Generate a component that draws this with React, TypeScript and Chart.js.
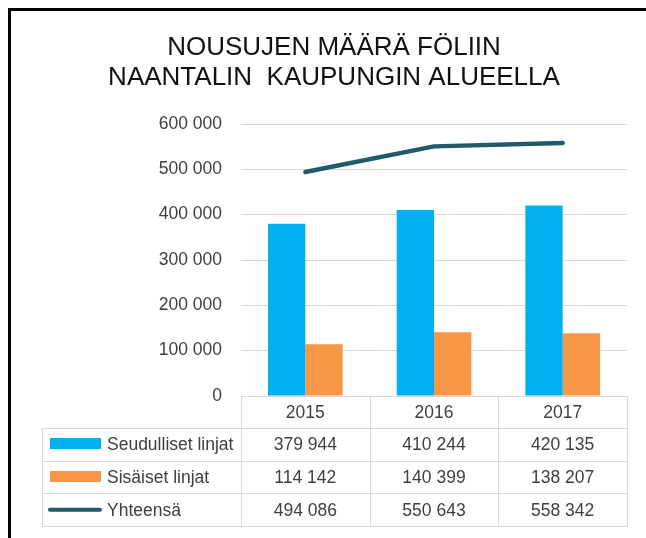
import React, { useEffect, useRef } from "react";
import { Chart, registerables } from "chart.js";

Chart.register(...registerables);

const years = ["2015", "2016", "2017"];
const seudulliset = [379944, 410244, 420135];
const sisaiset = [114142, 140399, 138207];
const yhteensa = [494086, 550643, 558342];
const seriesNames = ["Seudulliset linjat", "Sisäiset linjat", "Yhteensä"];
const seriesColors = ["#00b0f0", "#f79646", "#1f5b6b"];
const titleLines = ["NOUSUJEN MÄÄRÄ FÖLIIN", "NAANTALIN  KAUPUNGIN ALUEELLA"];
const yMin = 0;
const yMax = 600000;
const yStep = 100000;

const FONT = "'Liberation Sans', Arial, sans-serif";
const TEXT = "#404040";
const GRID = "#d9d9d9";

const fmt = (n: number) => String(n).replace(/\B(?=(\d{3})+(?!\d))/g, " ");

const tablePlugin = {
  id: "dataTable",
  afterDraw(chart: any) {
    const ctx: CanvasRenderingContext2D = chart.ctx;
    const xs = chart.scales.x;
    const left = Math.round(xs.left);
    const right = Math.round(xs.right);
    const n = years.length;
    const colW = (right - left) / n;
    const top = Math.round(chart.chartArea.bottom);
    const headerH = 32;
    const rowH = 32.7;
    const tableLeft = 42;
    const rows = [seudulliset, sisaiset, yhteensa];
    const bottom = Math.round(top + headerH + rowH * rows.length);

    ctx.save();
    ctx.strokeStyle = GRID;
    ctx.lineWidth = 1;
    ctx.beginPath();
    for (let i = 0; i <= n; i++) {
      const x = Math.round(left + i * colW) + 0.5;
      ctx.moveTo(x, top);
      ctx.lineTo(x, bottom);
    }
    ctx.moveTo(tableLeft + 0.5, Math.round(top + headerH));
    ctx.lineTo(tableLeft + 0.5, bottom);
    ctx.moveTo(left, top + 0.5);
    ctx.lineTo(right, top + 0.5);
    for (let r = 0; r <= rows.length; r++) {
      const y = Math.round(top + headerH + r * rowH) + 0.5;
      ctx.moveTo(tableLeft, y);
      ctx.lineTo(right + 1, y);
    }
    ctx.stroke();

    ctx.fillStyle = TEXT;
    ctx.font = `17.5px ${FONT}`;
    ctx.textBaseline = "middle";
    ctx.textAlign = "center";
    for (let i = 0; i < n; i++) {
      const cx = left + (i + 0.5) * colW;
      ctx.fillText(years[i], cx, top + headerH / 2 + 1);
      for (let r = 0; r < rows.length; r++) {
        const cy = top + headerH + (r + 0.5) * rowH + 1;
        ctx.fillText(fmt(rows[r][i]), cx, cy);
      }
    }
    for (let r = 0; r < rows.length; r++) {
      const cy = top + headerH + (r + 0.5) * rowH;
      if (r < 2) {
        ctx.fillStyle = seriesColors[r];
        ctx.fillRect(50, Math.round(cy - 6), 51, 11);
      } else {
        ctx.strokeStyle = seriesColors[r];
        ctx.lineWidth = 4;
        ctx.lineCap = "round";
        ctx.beginPath();
        ctx.moveTo(50, cy);
        ctx.lineTo(100, cy);
        ctx.stroke();
      }
      ctx.fillStyle = TEXT;
      ctx.textAlign = "left";
      ctx.fillText(seriesNames[r], 107, cy + 1);
    }

    ctx.fillStyle = "#000";
    ctx.fillRect(8, 8, 638, 3);
    ctx.fillRect(8, 8, 3, 530);
    ctx.restore();
  },
};

export default function App() {
  const ref = useRef<HTMLCanvasElement | null>(null);
  useEffect(() => {
    if (!ref.current) return;
    const chart = new Chart(ref.current, {
      type: "bar",
      data: {
        labels: years,
        datasets: [
          {
            type: "bar",
            label: seriesNames[0],
            data: seudulliset,
            backgroundColor: seriesColors[0],
            borderWidth: 0,
            categoryPercentage: 0.58,
            barPercentage: 1,
          },
          {
            type: "bar",
            label: seriesNames[1],
            data: sisaiset,
            backgroundColor: seriesColors[1],
            borderWidth: 0,
            categoryPercentage: 0.58,
            barPercentage: 1,
          },
          {
            type: "line",
            label: seriesNames[2],
            data: yhteensa,
            borderColor: seriesColors[2],
            backgroundColor: seriesColors[2],
            borderWidth: 4.5,
            pointRadius: 0,
            tension: 0,
            borderCapStyle: "round",
            borderJoinStyle: "round",
          } as any,
        ],
      },
      options: {
        responsive: false,
        animation: false,
        layout: { padding: { top: 11, left: 41, right: 19, bottom: 142 } },
        plugins: {
          legend: { display: false },
          tooltip: { enabled: false },
          title: {
            display: true,
            text: titleLines,
            color: "#111",
            font: { family: FONT, size: 26, weight: "normal", lineHeight: 30 / 26 },
            padding: { top: 22, bottom: 31 },
          },
        },
        scales: {
          x: { display: false },
          y: {
            min: yMin,
            max: yMax,
            ticks: {
              stepSize: yStep,
              padding: 19,
              color: TEXT,
              font: { family: FONT, size: 17.5 },
              callback: (v: any) => fmt(Number(v)),
            },
            grid: { color: GRID, drawTicks: false },
            border: { display: false },
            afterFit: (scale: any) => {
              scale.width = 200;
            },
          },
        },
      },
      plugins: [tablePlugin],
    });
    return () => chart.destroy();
  }, []);
  return (
    <div style={{ position: "absolute", left: 0, top: 0, width: 646, height: 538, background: "#fff" }}>
      <canvas ref={ref} width={646} height={538} style={{ display: "block" }} />
    </div>
  );
}
